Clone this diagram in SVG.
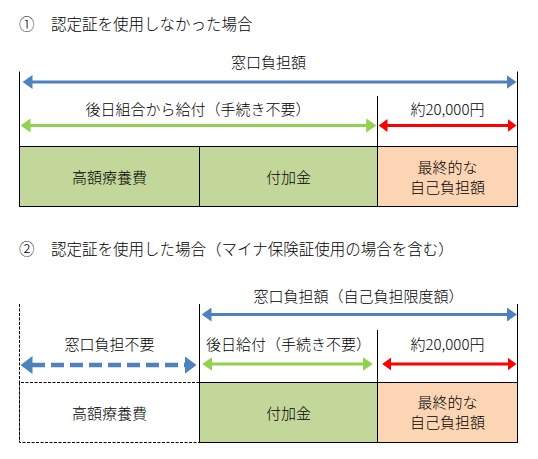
<svg xmlns="http://www.w3.org/2000/svg" width="538" height="459" viewBox="0 0 538 459">
<style>
text{font-family:"Noto Sans CJK JP","Noto Sans",sans-serif;font-size:15px;font-weight:300;fill:#000;}
.t{font-size:15.5px;}
.c{text-anchor:middle;}
.ln{stroke:#000;stroke-width:1;fill:none;}
.dot{stroke:#000;stroke-width:1;fill:none;stroke-dasharray:3 1.5;}
.g{fill:#C4D79B;}
.o{fill:#FCD5B4;}
.ab{stroke:#4F81BD;stroke-width:3;fill:none;}
.ag{stroke:#92D050;stroke-width:3;fill:none;}
.ar{stroke:#FF0000;stroke-width:3;fill:none;}
.ad{stroke:#4F81BD;stroke-width:4.5;fill:none;stroke-dasharray:13 6;}
</style>
<defs>
<marker id="hb" markerUnits="userSpaceOnUse" markerWidth="10" markerHeight="14" viewBox="0 0 10 14" refX="0.5" refY="7" orient="auto-start-reverse"><path d="M0,0 L10,7 L0,14 z" fill="#4F81BD"/></marker>
<marker id="hg" markerUnits="userSpaceOnUse" markerWidth="10" markerHeight="14" viewBox="0 0 10 14" refX="0.5" refY="7" orient="auto-start-reverse"><path d="M0,0 L10,7 L0,14 z" fill="#92D050"/></marker>
<marker id="hr" markerUnits="userSpaceOnUse" markerWidth="9" markerHeight="13" viewBox="0 0 9 13" refX="0.5" refY="6.5" orient="auto-start-reverse"><path d="M0,0 L9,6.5 L0,13 z" fill="#FF0000"/></marker>
<marker id="hd" markerUnits="userSpaceOnUse" markerWidth="12" markerHeight="18" viewBox="0 0 12 18" refX="0.5" refY="9" orient="auto-start-reverse"><path d="M0,0 L12,9 L0,18 z" fill="#4F81BD"/></marker>
</defs>
<rect width="538" height="459" fill="#fff"/>

<g id="title1"><text class="t" x="19" y="30">①</text><text class="t" x="51" y="30">認定証を使用しなかった場合</text></g>

<g id="s1-frame">
<line class="ln" x1="19.5" y1="71.5" x2="19.5" y2="146"/>
<line class="ln" x1="517.5" y1="71.5" x2="517.5" y2="146"/>
<line class="ln" x1="377.5" y1="96" x2="377.5" y2="146"/>
</g>
<g id="s1-label-window"><text class="c" x="268.5" y="68">窓口負担額</text></g>
<g id="s1-label-later"><text class="c" x="198" y="115">後日組合から給付（手続き不要）</text></g>
<g id="s1-label-20000"><text class="c" x="447.5" y="115">約20,000円</text></g>

<g id="s1-box-kougaku"><rect class="g" x="19.5" y="146.5" width="180" height="60"/><rect class="ln" x="19.5" y="146.5" width="180" height="60"/><text class="c" x="109.5" y="183">高額療養費</text></g>
<g id="s1-box-fuka"><rect class="g" x="199.5" y="146.5" width="178" height="60"/><rect class="ln" x="199.5" y="146.5" width="178" height="60"/><text class="c" x="288.5" y="183">付加金</text></g>
<g id="s1-box-jiko"><rect class="o" x="377.5" y="146.5" width="140" height="60"/><rect class="ln" x="377.5" y="146.5" width="140" height="60"/><text class="c" x="447.5" y="173">最終的な</text><text class="c" x="447.5" y="193">自己負担額</text></g>

<g id="title2"><text class="t" x="19" y="254.5">②</text><text class="t" x="51" y="254.5">認定証を使用した場合（マイナ保険証使用の場合を含む）</text></g>

<g id="s2-frame">
<line class="dot" x1="19.5" y1="304" x2="19.5" y2="442.5"/>
<line class="ln" x1="199.5" y1="304" x2="199.5" y2="382.5"/>
<line class="ln" x1="517.5" y1="304" x2="517.5" y2="382.5"/>
<line class="ln" x1="377.5" y1="330" x2="377.5" y2="382.5"/>
</g>
<g id="s2-label-window"><text class="c" x="358.5" y="301.5">窓口負担額（自己負担限度額）</text></g>
<g id="s2-label-none"><text class="c" x="109.5" y="349.5">窓口負担不要</text></g>
<g id="s2-label-later"><text class="c" x="288.5" y="349.5">後日給付（手続き不要）</text></g>
<g id="s2-label-20000"><text class="c" x="447.5" y="349.5">約20,000円</text></g>

<g id="s2-box-kougaku"><rect x="19.5" y="382.5" width="180" height="60" fill="#fff"/><path class="dot" d="M199.5,382.5 H19.5 V442.5 H199.5"/><text class="c" x="109.5" y="418.5">高額療養費</text></g>
<g id="s2-box-fuka"><rect class="g" x="199.5" y="382.5" width="178" height="60"/><rect class="ln" x="199.5" y="382.5" width="178" height="60"/><text class="c" x="288.5" y="418.5">付加金</text></g>
<g id="s2-box-jiko"><rect class="o" x="377.5" y="382.5" width="140" height="60"/><rect class="ln" x="377.5" y="382.5" width="140" height="60"/><text class="c" x="447.5" y="408">最終的な</text><text class="c" x="447.5" y="428">自己負担額</text></g>

<g id="connectors">
<line class="ab" x1="32" y1="82" x2="507" y2="82" marker-start="url(#hb)" marker-end="url(#hb)"/>
<line class="ag" x1="30" y1="125.5" x2="366.7" y2="125.5" marker-start="url(#hg)" marker-end="url(#hg)"/>
<line class="ar" x1="387" y1="125.5" x2="508" y2="125.5" marker-start="url(#hr)" marker-end="url(#hr)"/>
<line class="ab" x1="211" y1="314.5" x2="507.5" y2="314.5" marker-start="url(#hb)" marker-end="url(#hb)"/>
<line class="ad" x1="32" y1="365" x2="185" y2="365" marker-start="url(#hd)" marker-end="url(#hd)"/>
<line class="ag" x1="211.7" y1="364" x2="363.3" y2="364" marker-start="url(#hg)" marker-end="url(#hg)"/>
<line class="ar" x1="390.7" y1="364" x2="508" y2="364" marker-start="url(#hr)" marker-end="url(#hr)"/>
</g>
</svg>
